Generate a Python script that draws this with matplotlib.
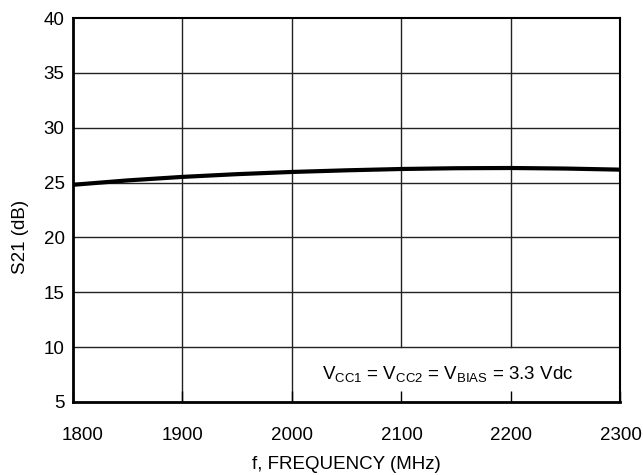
import numpy as np
import matplotlib
matplotlib.use("Agg")
import matplotlib.pyplot as plt
import matplotlib.transforms as mtransforms

# S21 vs frequency
freq = [1800, 1850, 1900, 1950, 2000, 2050, 2100, 2150, 2200, 2250, 2300]
s21 = [24.80, 25.20, 25.52, 25.77, 25.97, 26.12, 26.24, 26.31, 26.33, 26.28, 26.18]

x_ticks = [1800, 1900, 2000, 2100, 2200, 2300]
y_ticks = [5, 10, 15, 20, 25, 30, 35, 40]

plt.rcParams['font.family'] = ['Liberation Sans', 'DejaVu Sans']
plt.rcParams['mathtext.fontset'] = 'custom'
plt.rcParams['mathtext.rm'] = 'Liberation Sans'
FS = 13.5

fig = plt.figure(figsize=(6.43, 4.75), dpi=100)
ax = fig.add_axes([0.1135, 0.1537, 0.8515, 0.8083])

ax.set_xlim(1800, 2300)
ax.set_ylim(5, 40)

# grid drawn by hand so the note box can cut the lines
for yv in y_ticks[1:-1]:
    ax.plot([1800, 2300], [yv, yv], color="#222222", lw=1.0, zorder=1)
for xv in x_ticks[1:-1]:
    y0 = 10 if xv > 2000 else 5
    ax.plot([xv, xv], [y0, 40], color="#222222", lw=1.0, zorder=1)

ax.plot(freq, s21, color="black", lw=3.0, solid_capstyle="butt", zorder=3)

ax.set_xticks(x_ticks)
ax.set_yticks(y_ticks)
ax.tick_params(axis="x", direction="in", length=8, width=1.0, pad=18, labelsize=FS)
ax.tick_params(axis="y", length=0, pad=6, labelsize=FS)

# first x label sits a bit right of its tick in the original
lbl = ax.get_xticklabels()[0]
lbl.set_transform(lbl.get_transform() + mtransforms.ScaledTranslation(0.1, 0, fig.dpi_scale_trans))

for side in ["left", "bottom"]:
    ax.spines[side].set_linewidth(2.0)
for side in ["top", "right"]:
    ax.spines[side].set_linewidth(1.5)

ax.set_ylabel("S21 (dB)", fontsize=FS)
ax.yaxis.set_label_coords(-0.08, 0.43)
ax.set_xlabel("f, FREQUENCY (MHz)", fontsize=FS, labelpad=9)

ax.text(2142, 7.5,
        r"V$_{\mathregular{CC1}}$ = V$_{\mathregular{CC2}}$ = V$_{\mathregular{BIAS}}$ = 3.3 Vdc",
        ha="center", va="center", fontsize=FS)

plt.savefig("out.png", dpi=100)
